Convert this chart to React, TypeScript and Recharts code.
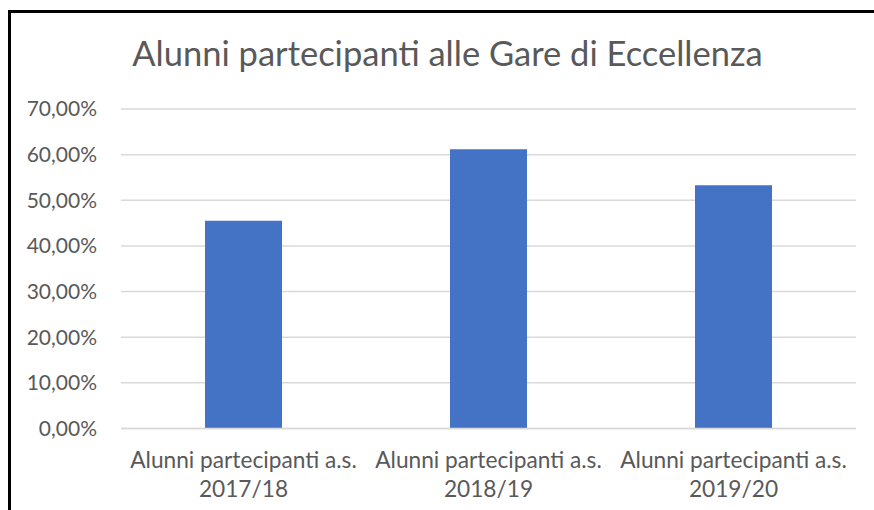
import React from 'react';
import { BarChart, Bar, XAxis, YAxis, CartesianGrid } from 'recharts';

const categories = ['Alunni partecipanti a.s. 2017/18', 'Alunni partecipanti a.s. 2018/19', 'Alunni partecipanti a.s. 2019/20'];
const values = [0.455, 0.612, 0.533];
const yTicks = [0, 0.1, 0.2, 0.3, 0.4, 0.5, 0.6, 0.7];
const title = 'Alunni partecipanti alle Gare di Eccellenza';

const data = categories.map((c, i) => ({ name: c, value: values[i] }));

const FONT = 'Lato, "Open Sans", sans-serif';
const TEXT = '#595959';

const fmt = (v: number) => (v * 100).toFixed(2).replace('.', ',') + '%';

const XTick = (props: any) => {
  const { x, y, payload } = props;
  const s: string = payload.value;
  const idx = s.lastIndexOf(' ');
  const l1 = s.slice(0, idx);
  const l2 = s.slice(idx + 1);
  return (
    <text x={x} y={y} textAnchor="middle" fill={TEXT} fontFamily={FONT} fontSize={22.7}>
      <tspan x={x} dy={39.5}>{l1}</tspan>
      <tspan x={x} dy={28.7}>{l2}</tspan>
    </text>
  );
};

export default function App() {
  return (
    <div style={{ position: 'absolute', left: 0, top: 0, width: 874, height: 510, overflow: 'hidden', background: '#fff' }}>
      <div style={{ position: 'absolute', left: 8, top: 10, width: 866, height: 500, borderLeft: '3px solid #000', borderTop: '3px solid #000', boxSizing: 'border-box' }} />
      <div style={{ position: 'absolute', left: 0, top: 34.5, width: 895, textAlign: 'center', fontFamily: FONT, fontSize: 34.5, color: TEXT, whiteSpace: 'nowrap', lineHeight: '36px' }}>
        {title}
      </div>
      <div style={{ position: 'absolute', left: 0, top: 0 }}>
        <BarChart width={874} height={510} data={data} margin={{ top: 109, right: 18, bottom: 51.5, left: 0 }}>
          <CartesianGrid vertical={false} stroke="#d9d9d9" strokeWidth={1.5} />
          <XAxis dataKey="name" height={30} tick={<XTick />} tickLine={false} axisLine={{ stroke: '#d9d9d9', strokeWidth: 1.5 }} interval={0} tickSize={0} tickMargin={0} />
          <YAxis width={121} domain={[0, 0.7]} ticks={yTicks} tickFormatter={fmt} axisLine={false} tickLine={false} tickSize={0} tickMargin={24} tick={{ fill: TEXT, fontFamily: FONT, fontSize: 21 }} interval={0} />
          <Bar dataKey="value" fill="#4472C4" barSize={77} isAnimationActive={false} />
        </BarChart>
      </div>
    </div>
  );
}
